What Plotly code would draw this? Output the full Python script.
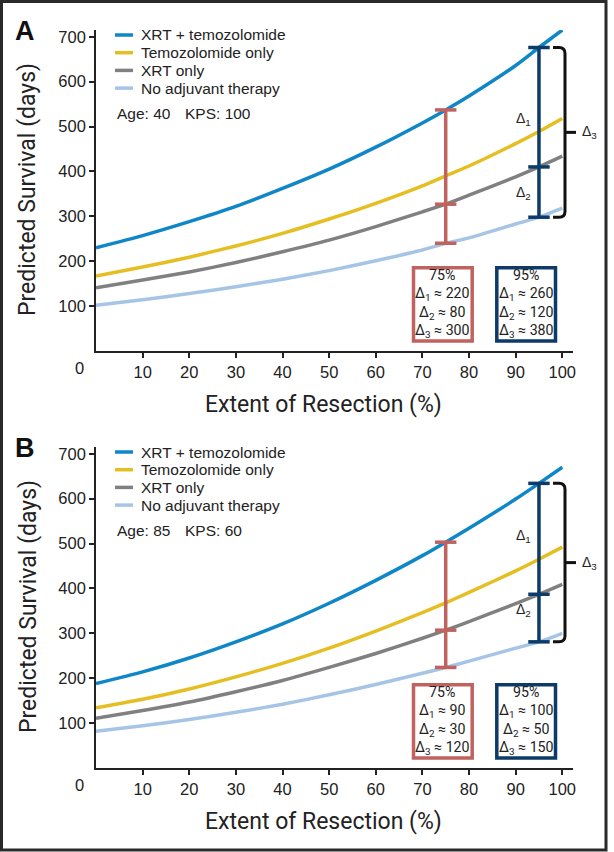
import plotly.graph_objects as go

# ---------------- data ----------------
x_eor = [0, 10, 20, 30, 40, 50, 60, 70, 75, 80, 90, 95, 100]

a_xrt_tmz = [230, 257, 288, 322, 362, 405, 454, 508, 537, 568, 636, 676, 715]
a_tmz     = [167, 187, 209, 234, 262, 294, 329, 368, 390, 412, 462, 489, 518]
a_xrt     = [141, 158, 176, 197, 221, 247, 277, 310, 327, 347, 388, 410, 434]
a_none    = [102, 114, 128, 143, 160, 179, 201, 225, 240, 252, 283, 298, 318]

b_xrt_tmz = [188, 214, 245, 281, 321, 367, 418, 473, 503, 534, 599, 634, 670]
b_tmz     = [134, 153, 176, 203, 233, 267, 305, 346, 368, 391, 439, 465, 492]
b_xrt     = [111, 128, 147, 170, 195, 224, 255, 289, 307, 326, 366, 387, 409]
b_none    = [82, 94, 108, 124, 142, 163, 186, 211, 224, 238, 267, 281, 300]

series_names = ["XRT + temozolomide", "Temozolomide only", "XRT only", "No adjuvant therapy"]
series_colors = ["#0f86c8", "#e5be22", "#808080", "#a6c5e6"]

x_ticks = [10, 20, 30, 40, 50, 60, 70, 80, 90, 100]
y_ticks = [100, 200, 300, 400, 500, 600, 700]

marker_eor = [75, 95]
marker_labels = ["75%", "95%"]
a_deltas = {75: [220, 80, 300], 95: [260, 120, 380]}
b_deltas = {75: [90, 30, 120], 95: [100, 50, 150]}
a_patient = ("Age: 40", "KPS: 100")
b_patient = ("Age: 85", "KPS: 60")

# ---------------- geometry ----------------
W, H = 614, 852
ML, MR, MT, MB = 96, 41, 30, 84
PW, PH = W - ML - MR, H - MT - MB
X_RANGE = [0, 102.3]
Y_RANGE = [0, 715]
TOP_A, BOT_A = 30, 351
TOP_B, BOT_B = 447, 768
DOM_A = [(H - MB - BOT_A) / PH, (H - MB - TOP_A) / PH]
DOM_B = [(H - MB - BOT_B) / PH, (H - MB - TOP_B) / PH]

TXT = "#222222"
NARROW = "Roboto, Liberation Sans Narrow, Arial Narrow, sans-serif"
SANS = "Liberation Sans, Arial, Helvetica, sans-serif"
RED = "#c0625d"
NAVY = "#0c3b68"


def px(xp, yp):
    return (xp - ML) / PW, (H - MB - yp) / PH


def ydata_to_paper(v, dom):
    return dom[0] + (v - Y_RANGE[0]) / (Y_RANGE[1] - Y_RANGE[0]) * (dom[1] - dom[0])


fig = go.Figure()
shapes = []
annotations = []

panels = [
    dict(letter="A", xa="x", ya="y", top=TOP_A, bot=BOT_A, dom=DOM_A,
         series=[a_xrt_tmz, a_tmz, a_xrt, a_none], deltas=a_deltas, patient=a_patient),
    dict(letter="B", xa="x2", ya="y2", top=TOP_B, bot=BOT_B, dom=DOM_B,
         series=[b_xrt_tmz, b_tmz, b_xrt, b_none], deltas=b_deltas, patient=b_patient),
]

for p in panels:
    top, bot, dom = p["top"], p["bot"], p["dom"]
    # curves
    for name, col, vals in zip(series_names, series_colors, p["series"]):
        fig.add_trace(go.Scatter(x=x_eor, y=vals, mode="lines", name=name,
                                 line=dict(color=col, width=3.5, shape="spline", smoothing=0.6),
                                 xaxis=p["xa"], yaxis=p["ya"], showlegend=False,
                                 hoverinfo="skip"))
    hi, mid, lo = p["series"][0], p["series"][2], p["series"][3]
    # markers (bars with caps) at 75% and 95%
    for xm, col in zip(marker_eor, [RED, NAVY]):
        i = x_eor.index(xm)
        fig.add_trace(go.Scatter(x=[xm, xm], y=[lo[i], hi[i]], mode="lines",
                                 line=dict(color=col, width=3.5), xaxis=p["xa"], yaxis=p["ya"],
                                 showlegend=False, hoverinfo="skip"))
        for v in (hi[i], mid[i], lo[i]):
            fig.add_trace(go.Scatter(x=[xm - 2.3, xm + 2.3], y=[v, v], mode="lines",
                                     line=dict(color=col, width=3.5), xaxis=p["xa"], yaxis=p["ya"],
                                     showlegend=False, hoverinfo="skip"))
    # delta labels near the 95% bar
    i95 = x_eor.index(95)
    for k, yp in enumerate([top + 89, top + 163]):
        xx, yy = px(523, yp)
        annotations.append(dict(x=xx, y=yy, xref="paper", yref="paper",
                                text="Δ<sub>%d</sub>" % (k + 1), showarrow=False,
                                font=dict(family=SANS, size=14, color=TXT),
                                xanchor="center", yanchor="middle"))
    # bracket (right brace) spanning Δ3
    yt = ydata_to_paper(hi[i95], dom)
    yb = ydata_to_paper(lo[i95], dom)
    ym = (yt + yb) / 2
    xl = px(553, 0)[0]
    xline = px(565, 0)[0]
    xtick = px(576, 0)[0]
    rx, ry = 6 / PW, 6 / PH
    path = (f"M {xl},{yt} L {xline - rx},{yt} Q {xline},{yt} {xline},{yt - ry} "
            f"L {xline},{yb + ry} Q {xline},{yb} {xline - rx},{yb} L {xl},{yb}")
    shapes.append(dict(type="path", path=path, xref="paper", yref="paper",
                       line=dict(color="#111111", width=3)))
    shapes.append(dict(type="line", x0=xline, x1=xtick, y0=ym, y1=ym, xref="paper", yref="paper",
                       line=dict(color="#111111", width=3)))
    xx, _ = px(589, 0)
    annotations.append(dict(x=xx, y=ym, xref="paper", yref="paper", text="Δ<sub>3</sub>",
                            showarrow=False, font=dict(family=SANS, size=14, color=TXT),
                            xanchor="center", yanchor="middle"))
    # summary boxes
    for xm, lab, col, (bx0, bx1) in zip(marker_eor, marker_labels, [RED, NAVY],
                                        [(413.5, 472.2), (496.8, 555.5)]):
        x0, y0 = px(bx0, top + 237.8)
        x1, y1 = px(bx1, top + 311)
        shapes.append(dict(type="rect", x0=x0, x1=x1, y0=y1, y1=y0, xref="paper", yref="paper",
                           line=dict(color=col, width=3.5), fillcolor="white"))
        cx = (bx0 + bx1) / 2
        d = p["deltas"][xm]
        lines = [lab] + ["Δ<sub>%d</sub> ≈ %d" % (j + 1, d[j]) for j in range(3)]
        xx, yy = px(cx, top + 273.5)
        annotations.append(dict(x=xx, y=yy, xref="paper", yref="paper", text="<br>".join(lines),
                                showarrow=False, align="center",
                                font=dict(family=NARROW, size=14.2, color=TXT),
                                xanchor="center", yanchor="middle"))
    # legend (manual)
    for j, (name, col) in enumerate(zip(series_names, series_colors)):
        yp = top + 5 + 17.7 * j
        lx0, ly = px(115, yp)
        lx1, _ = px(133, yp)
        shapes.append(dict(type="line", x0=lx0, x1=lx1, y0=ly, y1=ly, xref="paper", yref="paper",
                           line=dict(color=col, width=3.5)))
        tx, ty = px(139, yp)
        annotations.append(dict(x=tx, y=ty, xref="paper", yref="paper", text=name, showarrow=False,
                                font=dict(family=SANS, size=15.5, color=TXT),
                                xanchor="left", yanchor="middle"))
    for t, xp in zip(p["patient"], [115, 183]):
        tx, ty = px(xp, top + 83)
        annotations.append(dict(x=tx, y=ty, xref="paper", yref="paper", text=t, showarrow=False,
                                font=dict(family=SANS, size=15.5, color=TXT),
                                xanchor="left", yanchor="middle"))
    # panel letter
    tx, ty = px(25, top + 1)
    annotations.append(dict(x=tx, y=ty, xref="paper", yref="paper", text="<b>%s</b>" % p["letter"],
                            showarrow=False, font=dict(family=SANS, size=27, color="#111111"),
                            xanchor="center", yanchor="middle"))
    # "0" tick label at the corner
    tx, ty = px(79, bot + 17)
    annotations.append(dict(x=tx, y=ty, xref="paper", yref="paper", text="0", showarrow=False,
                            font=dict(family=SANS, size=16.5, color=TXT),
                            xanchor="center", yanchor="middle"))
    # axis titles
    tx, ty = px(323, bot + 53)
    annotations.append(dict(x=tx, y=ty, xref="paper", yref="paper", text="Extent of Resection (%)",
                            showarrow=False, font=dict(family=NARROW, size=23, color=TXT),
                            xanchor="center", yanchor="middle"))
    tx, ty = px(28, top + 160)
    annotations.append(dict(x=tx, y=ty, xref="paper", yref="paper", text="Predicted Survival (days)",
                            showarrow=False, textangle=-90,
                            font=dict(family=NARROW, size=23, color=TXT),
                            xanchor="center", yanchor="middle"))

# outer frame
fx0, fy0 = px(1.5, 850)
fx1, fy1 = px(606, 1.5)
shapes.append(dict(type="rect", x0=fx0, x1=fx1, y0=fy0, y1=fy1, xref="paper", yref="paper",
                   line=dict(color="#2a2a2a", width=3)))

axis_common = dict(showgrid=False, zeroline=False, showline=True, linecolor=TXT, linewidth=1.6,
                   ticks="outside", ticklen=5, tickwidth=1.6, tickcolor=TXT,
                   tickfont=dict(family=SANS, size=16.5, color=TXT))

fig.update_layout(
    width=W, height=H, margin=dict(l=ML, r=MR, t=MT, b=MB),
    paper_bgcolor="white", plot_bgcolor="white", showlegend=False,
    xaxis=dict(domain=[0, 1], range=X_RANGE, tickvals=x_ticks, anchor="y", **axis_common),
    yaxis=dict(domain=DOM_A, range=Y_RANGE, tickvals=y_ticks, anchor="x", **axis_common),
    xaxis2=dict(domain=[0, 1], range=X_RANGE, tickvals=x_ticks, anchor="y2", **axis_common),
    yaxis2=dict(domain=DOM_B, range=Y_RANGE, tickvals=y_ticks, anchor="x2", **axis_common),
    shapes=shapes, annotations=annotations,
)

fig.write_html("out.html", config={"displayModeBar": False},
               post_script="document.body.style.margin='0';document.body.style.overflow='hidden';")
